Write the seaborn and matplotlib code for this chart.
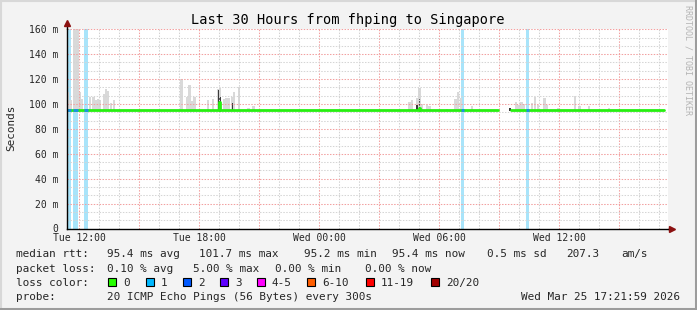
import numpy as np
import pandas as pd
import matplotlib
matplotlib.use("Agg")
import matplotlib.pyplot as plt
import seaborn as sns
from matplotlib.patches import Rectangle
from matplotlib.lines import Line2D

# ---------------- data ----------------
# time axis: hours since Tue 12:00
tick_hours = [0, 6, 12, 18, 24]
tick_labels = ["Tue 12:00", "Tue 18:00", "Wed 00:00", "Wed 06:00", "Wed 12:00"]
x_start, x_end = -0.6, 29.45

y_ticks = [0, 20, 40, 60, 80, 100, 120, 140, 160]
y_labels = ["0", "20 m", "40 m", "60 m", "80 m", "100 m", "120 m", "140 m", "160 m"]

# median rtt (ms), step series, two runs separated by a data gap
median_hour = [-0.6, 7.0, 7.05, 17.0, 17.05, 20.95, 21.6, 29.25]
median_rtt = [95.4, 101.7, 95.4, 96.8, 95.4, 95.4, 95.4, 95.4]
median_run = [0, 0, 0, 0, 0, 0, 1, 1]

# packet loss periods (1/20 lost)
loss_start = [-0.6, -0.3, 0.25, 19.1, 22.35]
loss_end = [-0.4, -0.05, 0.45, 19.25, 22.5]

# smoke (max of the 20 pings) spikes, ms
smoke_hour = [-0.55, -0.425, -0.25, -0.15, -0.05, 0.05, 0.15, 0.55, 0.725, 0.825,
              0.95, 1.05, 1.25, 1.35, 1.45, 1.6, 1.75,
              5.125, 5.4, 5.525, 5.65, 5.775, 6.45, 6.7, 6.95, 7.05, 7.25, 7.375,
              7.5, 7.675, 7.75, 8.0, 8.475, 8.725,
              16.525, 16.65, 16.9, 17.025, 17.125, 17.4, 17.525, 18.4, 18.825,
              18.95, 19.1, 19.65,
              21.85, 21.975, 22.125, 22.25, 22.65, 22.8, 22.95, 23.275, 23.4,
              23.975, 24.8, 25.025, 25.5, 26.5]
smoke_top = [110, 103, 160, 160, 160, 109.6, 104, 106, 106, 103,
             104, 103, 108, 112, 110.7, 101, 103,
             120, 105.6, 115, 102.4, 106, 103, 104, 112, 113, 104, 104.5,
             105, 106, 110, 114, 97, 98.6,
             101.4, 103, 104.5, 113, 100, 99, 98, 96, 104,
             110, 105, 98,
             101.4, 99, 102, 100, 101, 105.6, 99, 104.5, 99,
             97, 106.4, 98, 98, 97]

# darker inner smoke
dark_hour = [-0.575, 6.975, 7.05, 7.675, 16.9, 17.025, 21.55]
dark_low = [94.5, 95.0, 95.0, 94.5, 94.5, 94.5, 94.5]
dark_high = [109.0, 111.0, 106.0, 101.0, 99.0, 104.0, 96.5]

# legend
loss_labels = ["0", "1", "2", "3", "4-5", "6-10", "11-19", "20/20"]
loss_colors = ["#26ff00", "#00b8ff", "#0059ff", "#5e00ff", "#ff00fe",
               "#ff5e00", "#ff0000", "#a10000"]

# ---------------- figure ----------------
sns.set_style("white")
plt.rcParams['font.family'] = ['DejaVu Sans Mono', 'DejaVu Sans']

W, H = 697, 310
fig = plt.figure(figsize=(W / 100, H / 100), dpi=100, facecolor="#f3f3f3")


def fx(x):
    return x / W


def fy(y):
    return 1 - y / H


ax = fig.add_axes([fx(67), fy(228.5), (668 - 67) / W, (228.5 - 29.3) / H])
ax.set_facecolor("white")
ax.set_xlim(x_start, x_end)
ax.set_ylim(0, 160)

# loss background bars
for s, e in zip(loss_start, loss_end):
    ax.axvspan(s, e, color="#a8e4fa", lw=0, zorder=0.8)

# smoke
ax.bar(smoke_hour, np.array(smoke_top) - 94.5, bottom=94.5, width=0.11,
       color="#d9d9d9", lw=0, zorder=1.0)
ax.bar(dark_hour, np.array(dark_high) - np.array(dark_low), bottom=dark_low,
       width=0.07, color="#3a3a3a", lw=0, zorder=1.1)

# grid
for h in range(0, 30):
    major = (h % 3 == 0)
    ax.axvline(h, color="#f2a0a0" if major else "#d2d2d2", lw=0.75,
               ls=(0, (1.4, 1.4)), zorder=1.5)
for k in range(1, 25):
    major = (k % 3 == 0)
    ax.axhline(k * 20 / 3, color="#f2a0a0" if major else "#d5d5d5", lw=0.75,
               ls=(0, (1.4, 1.4)), zorder=1.5)

# median line
df = pd.DataFrame({"hour": median_hour, "rtt": median_rtt, "run": median_run})
sns.lineplot(data=df, x="hour", y="rtt", units="run", estimator=None,
             color="#26ef10", lw=2.0, drawstyle="steps-post", ax=ax,
             zorder=3, legend=False)
ax.hlines([95.4] * len(loss_start), loss_start, loss_end, color="#1a8fe8",
          lw=2.0, zorder=3.5)

# axes styling
for side in ["top", "right"]:
    ax.spines[side].set_visible(False)
for side in ["left", "bottom"]:
    ax.spines[side].set_color("black")
    ax.spines[side].set_linewidth(1.0)
    ax.spines[side].set_zorder(4)

ax.set_xticks(tick_hours)
ax.set_xticklabels(tick_labels, fontsize=7)
ax.set_yticks(y_ticks)
ax.set_yticklabels(y_labels, fontsize=7)
ax.tick_params(axis="x", length=2, width=0.7, color="#888888", pad=1.5)
ax.tick_params(axis="y", length=2, width=0.7, color="#888888", pad=4)
ax.set_xlabel("")
ax.set_ylabel("")

# axis arrows
ax.plot([0, 0], [1, 1.03], transform=ax.transAxes, color="black", lw=1.0,
        clip_on=False, zorder=4)
ax.plot([1.0, 1.004], [0, 0], transform=ax.transAxes, color="black", lw=1.0,
        clip_on=False, zorder=4)
ax.plot([0], [1.03], marker="^", ms=5, color="#8b1010", transform=ax.transAxes,
        clip_on=False, zorder=5)
ax.plot([1.007], [0], marker=">", ms=5, color="#8b1010", transform=ax.transAxes,
        clip_on=False, zorder=5)

# texts
fig.text(fx(348), fy(24), "Last 30 Hours from fhping to Singapore",
         ha="center", va="baseline", fontsize=9.8, color="black")
fig.text(fx(11), fy(128), "Seconds", rotation=90, ha="center", va="center",
         fontsize=7.9)
fig.text(fx(688), fy(5), "RRDTOOL / TOBI OETIKER", rotation=270, ha="center",
         va="top", fontsize=6, color="#b4b4b4")

fs = 7.9
line1 = [(16, "median rtt:"), (107, "95.4 ms avg"), (199, "101.7 ms max"),
         (304, "95.2 ms min"), (392, "95.4 ms now"), (487, "0.5 ms sd"),
         (566, "207.3"), (621, "am/s")]
line2 = [(16, "packet loss:"), (107, "0.10 % avg"), (193, "5.00 % max"),
         (275, "0.00 % min"), (365, "0.00 % now")]
for x, t in line1:
    fig.text(fx(x), fy(257.3), t, ha="left", va="baseline", fontsize=fs)
for x, t in line2:
    fig.text(fx(x), fy(271.6), t, ha="left", va="baseline", fontsize=fs)

fig.text(fx(16), fy(285.9), "loss color:", ha="left", va="baseline", fontsize=fs)
box_x = [108, 146, 183, 220, 257, 307, 366, 431]
for bx, lab, col in zip(box_x, loss_labels, loss_colors):
    fig.add_artist(Rectangle((fx(bx), fy(286)), 8 / W, 8 / H,
                             transform=fig.transFigure, facecolor=col,
                             edgecolor="black", lw=0.8))
    fig.text(fx(bx + 15), fy(285.9), lab, ha="left", va="baseline", fontsize=fs)

fig.text(fx(16), fy(300.2), "probe:", ha="left", va="baseline", fontsize=fs)
fig.text(fx(107), fy(300.2), "20 ICMP Echo Pings (56 Bytes) every 300s",
         ha="left", va="baseline", fontsize=fs)
fig.text(fx(680), fy(300.2), "Wed Mar 25 17:21:59 2026", ha="right",
         va="baseline", fontsize=fs)

# 3D-ish frame
fig.add_artist(Line2D([0, 1], [fy(0.5), fy(0.5)], transform=fig.transFigure,
                      color="#d8d8d8", lw=1.5))
fig.add_artist(Line2D([fx(0.5), fx(0.5)], [0, 1], transform=fig.transFigure,
                      color="#d8d8d8", lw=1.5))
fig.add_artist(Line2D([fx(695.5), fx(695.5)], [0, 1], transform=fig.transFigure,
                      color="#9c9c9c", lw=2.2))
fig.add_artist(Line2D([0, 1], [fy(308.5), fy(308.5)], transform=fig.transFigure,
                      color="#9c9c9c", lw=2.2))

fig.savefig("out.png", dpi=100, facecolor=fig.get_facecolor())
